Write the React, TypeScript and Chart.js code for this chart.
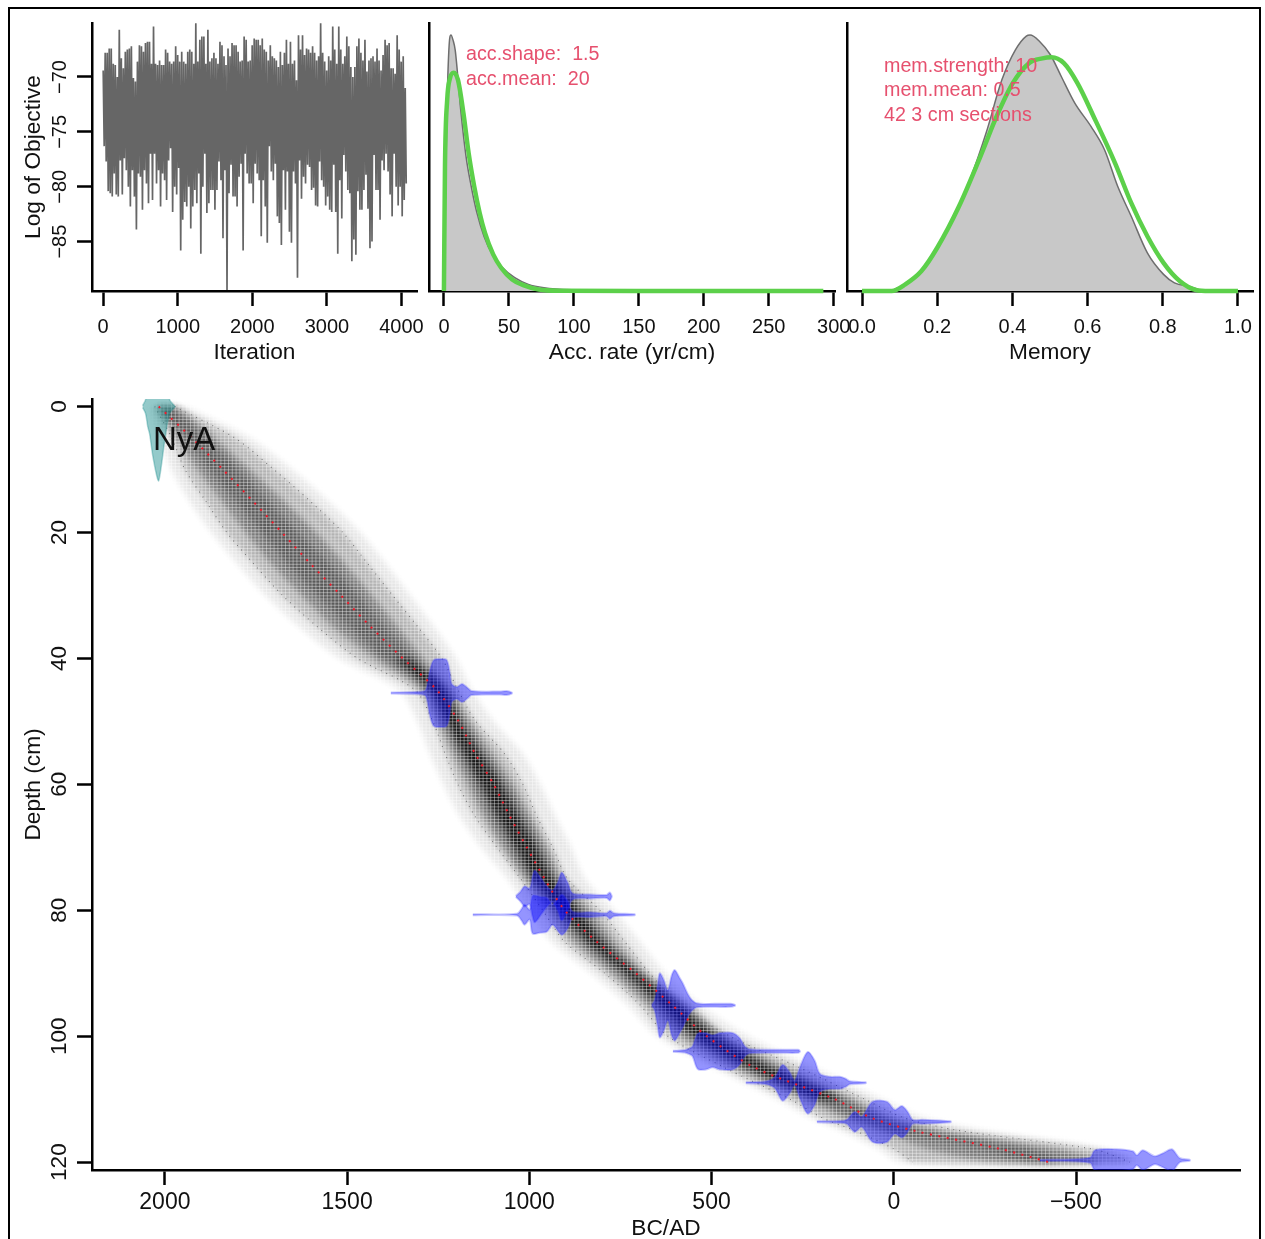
import { useEffect, useRef } from "react"
import { Chart, registerables } from "chart.js"

Chart.register(...registerables)
Chart.defaults.font.family = '"Liberation Sans", Arial, sans-serif'
Chart.defaults.font.size = 20
Chart.defaults.color = "#111"

const PAGE_W = 1265
const PAGE_H = 1239
const TITLE_SIZE = 22.7

// MCMC trace, high and low of each thinned column
const traceStep = 27
const traceHigh = [
  -69.4, -67.8, -67.8, -67.4, -67.4, -68.8, -68.9, -70.0, -65.7, -68.3, -69.2, -67.7, -67.5, -67.4, -67.2, -70.1,
  -70.4, -68.6, -67.1, -67.2, -67.7, -66.9, -66.8, -66.8, -68.8, -65.4, -68.8, -68.9, -68.5, -68.9, -68.9, -67.5,
  -67.8, -68.6, -68.8, -68.6, -67.2, -68.0, -68.6, -67.7, -68.6, -68.8, -67.7, -67.5, -67.7, -68.8, -65.1, -68.6,
  -66.6, -66.3, -66.3, -68.8, -65.7, -68.6, -68.3, -67.8, -68.3, -68.8, -66.8, -67.1, -68.1, -68.9, -67.4, -68.1,
  -66.9, -67.1, -67.1, -67.7, -68.6, -68.5, -66.3, -66.6, -68.6, -68.5, -67.1, -66.5, -66.6, -66.6, -67.1,
  -66.5, -67.5, -67.7, -68.5, -67.1, -68.1, -68.3, -68.5, -69.1, -67.7, -68.9, -67.8, -66.6, -68.8, -66.8, -68.8,
  -68.5, -70.3, -66.2, -67.5, -66.2, -68.0, -67.4, -67.5, -67.8, -67.2, -67.8, -68.5, -68.1, -65.1, -67.8, -68.6,
  -69.4, -68.1, -68.5, -65.4, -67.5, -68.8, -65.4, -67.5, -68.8, -68.1, -66.3, -67.2, -69.1, -70.0, -69.1, -67.2,
  -66.5, -67.8, -68.5, -66.6, -69.5, -68.5, -68.3, -68.1, -68.6, -67.4, -68.5, -69.4, -68.0, -66.6, -67.1, -66.9,
  -69.2, -69.2, -69.7, -66.2, -67.5, -68.6, -68.1, -71.0,
]
const traceLow = [
  -76.3, -77.7, -80.4, -80.6, -80.9, -78.8, -80.7, -80.9, -77.6, -80.7, -77.4, -78.5, -80.0, -81.8, -78.5, -80.9,
  -83.9, -78.8, -79.1, -82.1, -78.5, -79.7, -81.5, -77.0, -81.2, -77.0, -79.7, -78.5, -81.8, -78.8, -79.4, -81.2,
  -77.6, -76.5, -82.3, -80.0, -80.7, -78.3, -85.8, -83.0, -81.4, -81.8, -80.0, -83.8, -81.8, -80.3, -81.5, -78.8,
  -86.1, -80.0, -77.0, -82.4, -81.5, -80.3, -80.3, -82.1, -80.3, -77.7, -79.4, -84.7, -78.5, -89.4, -80.6, -78.0,
  -80.9, -80.9, -81.8, -79.1, -77.9, -85.8, -77.0, -78.8, -79.7, -79.7, -81.5, -77.9, -78.8, -79.4, -84.5,
  -79.4, -81.8, -85.1, -76.3, -78.6, -79.4, -77.9, -82.7, -83.3, -85.3, -78.5, -82.1, -78.6, -84.1, -85.1, -78.6,
  -79.7, -88.3, -77.6, -81.1, -79.1, -79.7, -78.0, -78.2, -80.3, -80.1, -81.7, -81.8, -77.7, -79.4, -80.0, -81.7,
  -80.9, -82.1, -82.3, -78.0, -82.3, -86.1, -79.4, -82.9, -77.1, -78.6, -80.3, -80.6, -86.8, -84.8, -86.2, -80.4,
  -82.1, -82.1, -80.3, -78.9, -82.0, -85.6, -85.0, -77.1, -80.3, -80.3, -83.0, -77.6, -78.5, -77.0, -78.6, -80.7,
  -82.7, -77.0, -80.0, -81.7, -80.0, -82.7, -81.2, -79.7,
]

// accumulation rate posterior and prior
const accPostX = [0, 0.8, 2.5, 4, 5.4, 7, 8.7, 12.9, 17, 21, 25.4, 30.8, 37.9, 44, 54.5, 65, 77, 102, 148, 292]
const accPostY = [0, 0.3, 0.75, 0.96, 1, 0.98, 0.94, 0.708, 0.526, 0.409, 0.305, 0.214, 0.136, 0.097, 0.052, 0.026, 0.013, 0.004, 0, 0]
const accPriorX = [0, 0.8, 2.5, 4.6, 7.5, 10.8, 15, 19, 23.3, 27.5, 31.6, 37.9, 44, 52.5, 61, 73, 90, 148, 292]
const accPriorY = [0, 0.487, 0.747, 0.83, 0.853, 0.825, 0.695, 0.539, 0.409, 0.305, 0.227, 0.143, 0.091, 0.045, 0.023, 0.006, 0.001, 0, 0]

// memory posterior and prior
const memPostX = [0, 0.05, 0.086, 0.143, 0.186, 0.236, 0.287, 0.33, 0.372, 0.408, 0.437, 0.447, 0.473, 0.501, 0.53, 0.566, 0.609, 0.645, 0.68, 0.716, 0.759, 0.802, 0.831, 0.874, 0.91, 1]
const memPostY = [0, 0, 0.006, 0.058, 0.136, 0.266, 0.435, 0.617, 0.825, 0.942, 0.996, 1, 0.974, 0.923, 0.838, 0.734, 0.643, 0.552, 0.409, 0.292, 0.149, 0.065, 0.032, 0.017, 0, 0]
const memPriorX = [0, 0.079, 0.115, 0.158, 0.2, 0.258, 0.315, 0.358, 0.401, 0.444, 0.48, 0.504, 0.537, 0.573, 0.616, 0.673, 0.716, 0.759, 0.802, 0.845, 0.888, 0.924, 1]
const memPriorY = [0, 0, 0.026, 0.078, 0.169, 0.331, 0.526, 0.682, 0.812, 0.89, 0.909, 0.913, 0.89, 0.812, 0.682, 0.5, 0.344, 0.214, 0.11, 0.039, 0.004, 0, 0]

// age-depth model, ages (BC/AD) at each depth
const depths = [0, 5, 10, 15, 20, 25, 30, 35, 40, 45, 50, 55, 60, 65, 70, 75, 80, 85, 90, 95, 100, 105, 110, 113, 115, 118, 120]
const meanAge = [2017, 1926, 1841, 1759, 1679, 1600, 1517, 1435, 1347, 1254, 1194, 1150, 1098, 1054, 1007, 958, 903, 815, 708, 609, 513, 381, 162, 60, -55, -299, -425]
const haloOld = [2042, 2014, 1981, 1932, 1871, 1800, 1723, 1630, 1520, 1356, 1306, 1273, 1235, 1191, 1131, 1059, 999, 938, 829, 730, 648, 491, 318, 225, 143, 38, -16]
const haloYoung = [1945, 1767, 1652, 1553, 1465, 1394, 1328, 1262, 1202, 1158, 1098, 1021, 971, 930, 886, 848, 768, 697, 628, 532, 401, 217, 33, -85, -250, -593, -675]
const rangeOld = [2028, 1981, 1945, 1888, 1830, 1756, 1677, 1581, 1471, 1314, 1265, 1232, 1196, 1150, 1089, 1024, 963, 903, 793, 697, 620, 464, 285, 195, 107, -3, -52]
const rangeYoung = [1973, 1808, 1701, 1602, 1512, 1443, 1375, 1306, 1240, 1196, 1147, 1070, 1018, 980, 936, 895, 807, 738, 670, 587, 450, 258, 80, -30, -181, -552, -648]
const midOld = [2022, 1965, 1910, 1844, 1778, 1707, 1624, 1537, 1424, 1295, 1251, 1210, 1169, 1125, 1073, 1013, 944, 878, 774, 675, 582, 436, 244, 134, 38, -99, -291]
const midYoung = [1965, 1863, 1767, 1674, 1586, 1506, 1432, 1361, 1290, 1213, 1163, 1103, 1045, 999, 952, 911, 834, 766, 681, 560, 461, 299, 115, 11, -126, -456, -565]
const coreOld = [2020, 1943, 1877, 1806, 1734, 1663, 1581, 1493, 1397, 1279, 1235, 1194, 1150, 1106, 1054, 999, 930, 856, 752, 656, 563, 414, 217, 99, -3, -250, -373]
const coreYoung = [1987, 1891, 1800, 1718, 1635, 1548, 1471, 1397, 1314, 1227, 1180, 1122, 1062, 1013, 966, 925, 853, 785, 694, 576, 475, 324, 134, 38, -85, -373, -456]
const darkDepths = [40, 45, 50, 55, 60, 65, 70, 75, 80, 85, 90, 95, 100, 105, 110]
const darkOld = [1369, 1268, 1224, 1180, 1133, 1087, 1037, 985, 916, 840, 735, 637, 543, 395, 198]
const darkYoung = [1328, 1235, 1191, 1136, 1078, 1032, 982, 938, 867, 799, 705, 593, 494, 340, 148]

// calibrated dates: depth, ages, half height of the distribution in cm
const modernDepth = 0
const modernAges = [2061, 2053, 2047, 2042, 2033, 2022, 2017, 2009, 2000, 1987, 1973]
const modernHalf = [0.16, 1.1, 3.2, 4.3, 7.9, 11.1, 11.8, 9.1, 5.2, 1.1, 0.08]

const dateDepths = [45.5, 77.8, 80.7, 95.1, 102.4, 107.4, 113.6, 119.7]
const dateAges = [
  [1380, 1301, 1284, 1273, 1262, 1243, 1227, 1218, 1213, 1199, 1185, 1172, 1158, 1081, 1062, 1048],
  [1037, 1024, 1013, 999, 991, 985, 966, 949, 936, 922, 911, 895, 881, 834, 788, 779, 774],
  [1155, 1034, 1021, 1013, 999, 991, 971, 952, 936, 911, 895, 881, 834, 788, 779, 768, 711],
  [664, 656, 648, 642, 631, 620, 609, 601, 587, 579, 560, 541, 491, 450, 436],
  [606, 574, 560, 552, 538, 516, 497, 477, 442, 423, 409, 395, 313, 263, 258],
  [406, 354, 327, 305, 285, 272, 258, 236, 217, 203, 176, 148, 132, 121, 77],
  [211, 148, 129, 107, 88, 58, 19, -3, -22, -38, -52, -80, -156],
  [-401, -538, -552, -612, -656, -667, -683, -716, -738, -763, -785, -812],
]
const dateHalf = [
  [0.08, 0.19, 0.48, 3.5, 5.25, 5.4, 5.25, 3.2, 1.43, 0.95, 1.43, 0.95, 0.32, 0.24, 0.32, 0.08],
  [0.08, 0.8, 1.6, 1.27, 3.2, 4.1, 2.7, 1.4, 0.95, 2.2, 3.8, 2.2, 0.48, 0.32, 0.24, 0.64, 0.08],
  [0.08, 0.14, 0.95, 1.6, 0.8, 3, 2.86, 2.7, 1.6, 3.2, 2.2, 0.48, 0.4, 0.24, 0.64, 0.24, 0.08],
  [0.08, 0.8, 3.2, 5.1, 4, 2.4, 4.8, 5.6, 4.3, 3.5, 1.27, 0.32, 0.24, 0.24, 0.08],
  [0.08, 0.2, 0.48, 0.8, 2.8, 2.9, 2.55, 2.9, 2.9, 2.1, 0.8, 0.32, 0.24, 0.24, 0.08],
  [0.08, 0.19, 0.8, 2.86, 1.6, 0.32, 2.4, 4.9, 3.5, 1.43, 0.95, 0.95, 0.64, 0.24, 0.08],
  [0.08, 0.13, 0.32, 1.6, 0.8, 3.2, 3.2, 1.9, 2.5, 1.6, 0.32, 0.32, 0.08],
  [0.08, 0.4, 1.6, 1.75, 1.43, 0.8, 1.6, 0.64, 1.1, 1.75, 0.32, 0.08],
]

// tick labels
const iterTicks = [0, 1000, 2000, 3000, 4000]
const objectiveTicks = [-70, -75, -80, -85]
const accTicks = [0, 50, 100, 150, 200, 250, 300]
const memTicks = [0, 0.2, 0.4, 0.6, 0.8, 1]
const ageTicks = [2000, 1500, 1000, 500, 0, -500]
const depthTicks = [0, 20, 40, 60, 80, 100, 120]

const accNotes = ["acc.shape:  1.5", "acc.mean:  20"]
const memNotes = ["mem.strength: 10", "mem.mean: 0.5", "42 3 cm sections"]

const NOTE_COLOR = "#e6506e"
const GREEN = "#5cd04a"

const pairs = (xs: number[], ys: number[]) => xs.map((x, i) => ({ x, y: ys[i] }))

// closed outline of a band around the age-depth curve
const bandOutline = (ds: number[], older: number[], younger: number[]) => [
  ...ds.map((y, i) => ({ x: older[i], y })),
  ...ds.map((y, i) => ({ x: younger[i], y })).reverse(),
]

// mirrored outline of a calibrated date
const violinOutline = (depth: number, ages: number[], half: number[]) => [
  ...ages.map((x, i) => ({ x, y: depth - half[i] })),
  ...ages.map((x, i) => ({ x, y: depth + half[i] })).reverse(),
]

const fmt = (v: number | string) => String(v).replace("-", "\u2212")

function makeOptions(p: any) {
  const { rect } = p
  const axisW = p.yTitle ? rect.left - 20 : 0
  const axisH = p.axisH ?? 75
  return {
    responsive: false,
    animation: false as const,
    events: [],
    layout: {
      padding: {
        left: rect.left - axisW,
        top: rect.top,
        right: PAGE_W - rect.right,
        bottom: PAGE_H - rect.bottom - axisH,
      },
    },
    plugins: { legend: { display: false }, tooltip: { enabled: false } },
    scales: {
      x: {
        type: "linear",
        position: "bottom",
        min: p.xMin,
        max: p.xMax,
        reverse: !!p.xReverse,
        afterBuildTicks: (s: any) => {
          s.ticks = p.xTicks.map((value: number) => ({ value }))
        },
        afterFit: (s: any) => {
          s.height = axisH
        },
        border: { display: true, color: "#000", width: 2.5 },
        grid: { drawOnChartArea: false, drawTicks: true, tickLength: 15, tickWidth: 2.5, tickColor: "#000" },
        ticks: {
          autoSkip: false,
          maxRotation: 0,
          minRotation: 0,
          padding: p.xTickPad ?? 9,
          color: "#111",
          font: { size: p.xTickSize ?? 20 },
          callback: (v: number) => (p.xDecimals ? v.toFixed(p.xDecimals) : fmt(v)),
        },
        title: { display: true, text: p.xTitle, color: "#111", font: { size: TITLE_SIZE }, padding: 0 },
      },
      y: {
        type: "linear",
        position: "left",
        min: p.yMin,
        max: p.yMax,
        reverse: !!p.yReverse,
        afterBuildTicks: (s: any) => {
          if (p.yTicks) s.ticks = p.yTicks.map((value: number) => ({ value }))
        },
        afterFit: (s: any) => {
          s.width = axisW
        },
        border: { display: true, color: "#000", width: 2.5 },
        grid: {
          drawOnChartArea: false,
          drawTicks: !!p.yTicks,
          tickLength: 15,
          tickWidth: 2.5,
          tickColor: "#000",
        },
        ticks: { display: false },
        title: p.yTitle
          ? { display: true, text: p.yTitle, color: "#111", font: { size: TITLE_SIZE }, padding: 0 }
          : { display: false },
      },
    },
  }
}

// R style y tick labels, turned 90 degrees
const rotatedTicks = {
  id: "rotatedTicks",
  afterDraw(chart: any, _a: any, opts: any) {
    if (!opts.values) return
    const { ctx } = chart
    const yScale = chart.scales.y
    ctx.save()
    ctx.font = `${opts.size}px "Liberation Sans", Arial, sans-serif`
    ctx.fillStyle = "#111"
    ctx.textAlign = "center"
    ctx.textBaseline = "middle"
    opts.values.forEach((v: number) => {
      ctx.save()
      ctx.translate(60, yScale.getPixelForValue(v))
      ctx.rotate(-Math.PI / 2)
      ctx.fillText(fmt(v), 0, 0)
      ctx.restore()
    })
    ctx.restore()
  },
}

// coloured notes and the core name
const notes = {
  id: "notes",
  afterDraw(chart: any, _a: any, opts: any) {
    if (!opts.lines) return
    const { ctx } = chart
    ctx.save()
    ctx.font = `${opts.size}px "Liberation Sans", Arial, sans-serif`
    ctx.fillStyle = opts.color
    ctx.textBaseline = "middle"
    opts.lines.forEach((t: string, i: number) => {
      ctx.fillText(t, opts.x, opts.y + i * opts.gap)
    })
    ctx.restore()
  },
}

// soft edges for the grey model, then the white mesh of its image cells
const softBands = {
  id: "softBands",
  beforeDatasetsDraw(chart: any, _a: any, opts: any) {
    if (opts.last !== undefined) chart.ctx.filter = "blur(3px)"
  },
  afterDatasetDraw(chart: any, args: any, opts: any) {
    if (opts.last === undefined || args.index !== opts.last) return
    const { ctx, chartArea: a } = chart
    ctx.filter = "none"
    ctx.save()
    ctx.fillStyle = "rgba(255,255,255,0.38)"
    for (let x = a.left + 3; x < a.right; x += 3.8) ctx.fillRect(x, a.top, 1, a.bottom - a.top - 2)
    for (let y = a.top + 1; y < a.bottom - 2; y += 3.15) ctx.fillRect(a.left + 2, y, a.right - a.left - 2, 1)
    ctx.restore()
  },
}

function polygon(data: any[], fillColor: string, extra: any = {}) {
  return {
    data,
    showLine: true,
    fill: "shape",
    backgroundColor: fillColor,
    borderWidth: 0,
    pointRadius: 0,
    tension: 0.3,
    ...extra,
  }
}

function dottedLine(xs: number[], ys: number[], color: string, width: number, dash: number[]) {
  return {
    data: pairs(xs, ys),
    showLine: true,
    fill: false,
    borderColor: color,
    borderWidth: width,
    borderDash: dash,
    pointRadius: 0,
    tension: 0.3,
  }
}

function density(xs: number[], ys: number[], line: string, width: number, fillColor?: string) {
  return {
    data: pairs(xs, ys),
    showLine: true,
    fill: fillColor ? "origin" : false,
    backgroundColor: fillColor,
    borderColor: line,
    borderWidth: width,
    pointRadius: 0,
    cubicInterpolationMode: "monotone",
    clip: false,
  }
}

// bottom-to-top list into chart.js order, first drawn gets the highest order
const layered = (list: any[]) => list.map((d, i) => ({ ...d, order: list.length - i }))

const tracePoints = traceHigh.flatMap((hi, i) => [
  { x: i * traceStep, y: hi },
  { x: i * traceStep + traceStep / 2, y: traceLow[i] },
])

const panels: any[] = [
  {
    rect: { left: 92, top: 23, right: 417, bottom: 291 },
    xMin: -150,
    xMax: 4208,
    yMin: -89.5,
    yMax: -65.08,
    xTicks: iterTicks,
    yTicks: objectiveTicks,
    xTitle: "Iteration",
    yTitle: "Log of Objective",
    datasets: [
      { data: tracePoints, showLine: true, fill: false, borderColor: "#666", borderWidth: 1.7, pointRadius: 0 },
    ],
    pluginOpts: { rotatedTicks: { values: objectiveTicks, size: 20 } },
  },
  {
    rect: { left: 429, top: 23, right: 835, bottom: 291 },
    xMin: -11.5,
    xMax: 301,
    yMin: 0,
    yMax: 1.047,
    xTicks: accTicks,
    xTitle: "Acc. rate (yr/cm)",
    datasets: layered([
      density(accPostX, accPostY, "#6e6e6e", 1.5, "#c8c8c8"),
      density(accPriorX, accPriorY, GREEN, 4.5),
    ]),
    pluginOpts: { notes: { lines: accNotes, x: 466, y: 54.5, gap: 25, size: 19.7, color: NOTE_COLOR } },
  },
  {
    rect: { left: 847, top: 23, right: 1253, bottom: 291 },
    xMin: -0.04,
    xMax: 1.04,
    yMin: 0,
    yMax: 1.047,
    xTicks: memTicks,
    xDecimals: 1,
    xTitle: "Memory",
    datasets: layered([
      density(memPostX, memPostY, "#6e6e6e", 1.5, "#c8c8c8"),
      density(memPriorX, memPriorY, GREEN, 4.5),
    ]),
    pluginOpts: { notes: { lines: memNotes, x: 884, y: 66.5, gap: 24.5, size: 19.7, color: NOTE_COLOR } },
  },
  {
    rect: { left: 92, top: 399, right: 1240, bottom: 1170 },
    axisH: 72.6,
    xMin: -950,
    xMax: 2200,
    xReverse: true,
    yMin: -1.2,
    yMax: 121.25,
    yReverse: true,
    xTicks: ageTicks,
    xTickSize: 23,
    xTickPad: 3.5,
    yTicks: depthTicks,
    xTitle: "BC/AD",
    yTitle: "Depth (cm)",
    datasets: layered([
      polygon(bandOutline(depths, haloOld, haloYoung), "rgba(0,0,0,0.1)"),
      polygon(bandOutline(depths, rangeOld, rangeYoung), "rgba(0,0,0,0.22)"),
      polygon(bandOutline(depths, midOld, midYoung), "rgba(0,0,0,0.33)"),
      polygon(bandOutline(depths, coreOld, coreYoung), "rgba(0,0,0,0.25)"),
      polygon(bandOutline(darkDepths, darkOld, darkYoung), "rgba(0,0,0,0.75)"),
      dottedLine(rangeOld, depths, "#777", 1.1, [1, 5]),
      dottedLine(rangeYoung, depths, "#777", 1.1, [1, 5]),
      polygon(violinOutline(modernDepth, modernAges, modernHalf), "rgba(0,128,128,0.42)", {
        borderWidth: 1.5,
        borderColor: "rgba(0,128,128,0.3)",
      }),
      ...dateDepths.map((d, i) =>
        polygon(violinOutline(d, dateAges[i], dateHalf[i]), "rgba(0,0,255,0.42)", {
          borderWidth: 2,
          borderColor: "rgba(60,60,255,0.28)",
          tension: 0.3,
        }),
      ),
      dottedLine(meanAge, depths, "#f01a2a", 2, [2, 6.5]),
    ]),
    pluginOpts: {
      rotatedTicks: { values: depthTicks, size: 22.5 },
      notes: { lines: ["NyA"], x: 153, y: 441, gap: 0, size: 33, color: "#111" },
      softBands: { last: 4 },
    },
  },
]

function Panel({ panel }: { panel: any }) {
  const ref = useRef<HTMLCanvasElement>(null)

  useEffect(() => {
    if (!ref.current) return
    const options: any = makeOptions(panel)
    options.plugins = { ...options.plugins, ...panel.pluginOpts }
    const chart = new Chart(ref.current, {
      type: "scatter",
      data: { datasets: panel.datasets },
      options,
      plugins: [softBands, rotatedTicks, notes],
    })
    return () => chart.destroy()
  }, [panel])

  return (
    <canvas ref={ref} width={PAGE_W} height={PAGE_H} style={{ position: "absolute", left: 0, top: 0 }} />
  )
}

export default function App() {
  return (
    <div
      style={{
        position: "absolute",
        left: 0,
        top: 0,
        width: PAGE_W,
        height: PAGE_H,
        overflow: "hidden",
        background: "#fff",
      }}
    >
      <div
        style={{
          position: "absolute",
          left: 8,
          top: 7,
          width: 1249,
          height: 1230,
          borderLeft: "2.5px solid #000",
          borderTop: "2.5px solid #000",
          borderRight: "2.5px solid #000",
          borderBottom: "1.5px solid #777",
        }}
      />
      {panels.map((p, i) => (
        <Panel key={i} panel={p} />
      ))}
    </div>
  )
}
